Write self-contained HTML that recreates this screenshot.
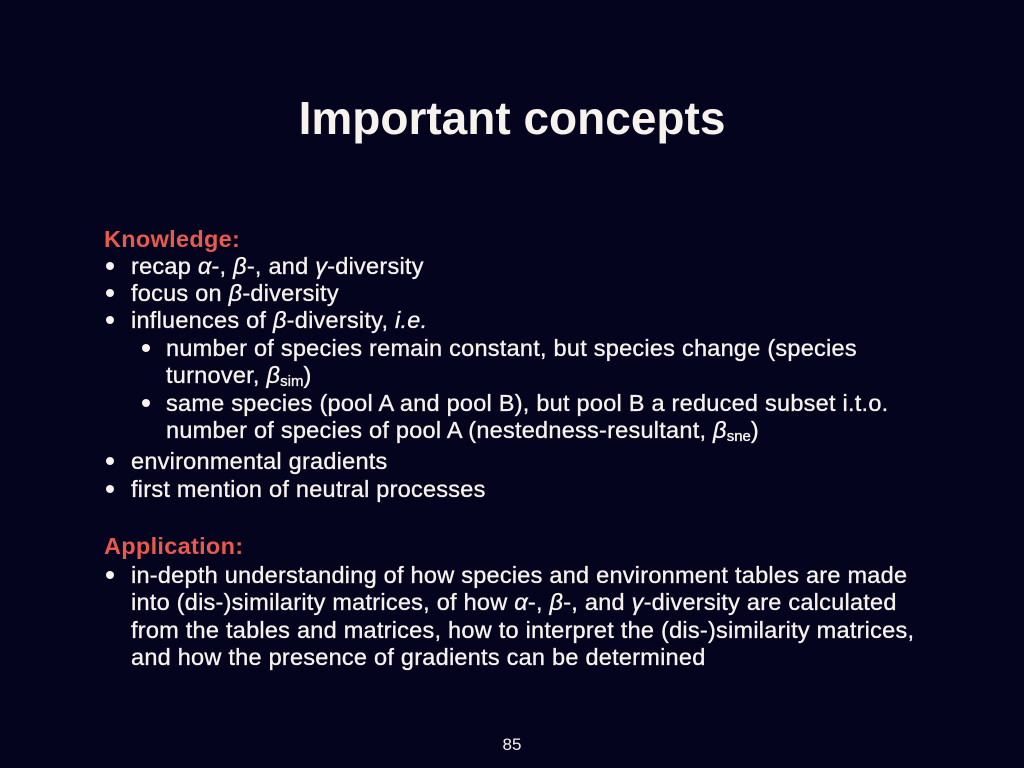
<!DOCTYPE html>
<html><head><meta charset="utf-8"><style>
html,body{margin:0;padding:0}
body{width:1024px;height:768px;background:#05041e;position:relative;overflow:hidden;font-family:"Liberation Sans",Arial,sans-serif;color:#f7f3ec}
.l{position:absolute;font-size:23.5px;line-height:26px;white-space:nowrap;letter-spacing:0.25px;-webkit-text-stroke:0.35px #f7f3ec}
.b::before{content:"";position:absolute;width:8px;height:8px;border-radius:50%;background:#f7f3ec;top:9px}
.b1::before{left:-25px}
.b2::before{left:-24px}
.h{color:#e8594f;font-weight:bold;-webkit-text-stroke:0;letter-spacing:0.3px}
sub{font-size:15px;vertical-align:-3px;line-height:0;letter-spacing:0}
</style></head><body>
<div style="position:absolute;top:92px;left:0;width:1024px;text-align:center;font-size:46px;font-weight:bold;line-height:52px">Important concepts</div>
<div class="l h" style="left:104px;top:226px">Knowledge:</div>
<div class="l b b1" style="left:131px;top:253px">recap <i>α</i>-, <i>β</i>-, and <i>γ</i>-diversity</div>
<div class="l b b1" style="left:131px;top:280px">focus on <i>β</i>-diversity</div>
<div class="l b b1" style="left:131px;top:307px">influences of <i>β</i>-diversity, <i>i.e.</i></div>
<div class="l b b2" style="left:166px;top:335px">number of species remain constant, but species change (species</div>
<div class="l" style="left:166px;top:362px">turnover, <i>β</i><sub>sim</sub>)</div>
<div class="l b b2" style="left:166px;top:390px">same species (pool A and pool B), but pool B a reduced subset i.t.o.</div>
<div class="l" style="left:166px;top:417px">number of species of pool A (nestedness-resultant, <i>β</i><sub>sne</sub>)</div>
<div class="l b b1" style="left:131px;top:448px">environmental gradients</div>
<div class="l b b1" style="left:131px;top:476px">first mention of neutral processes</div>
<div class="l h" style="left:104px;top:533px">Application:</div>
<div class="l b b1" style="left:131px;top:562px">in-depth understanding of how species and environment tables are made</div>
<div class="l" style="left:131px;top:589px">into (dis-)similarity matrices, of how <i>α</i>-, <i>β</i>-, and <i>γ</i>-diversity are calculated</div>
<div class="l" style="left:131px;top:617px">from the tables and matrices, how to interpret the (dis-)similarity matrices,</div>
<div class="l" style="left:131px;top:644px">and how the presence of gradients can be determined</div>
<div style="position:absolute;top:736px;left:0;width:1024px;text-align:center;font-size:17px;line-height:18px">85</div>
</body></html>
